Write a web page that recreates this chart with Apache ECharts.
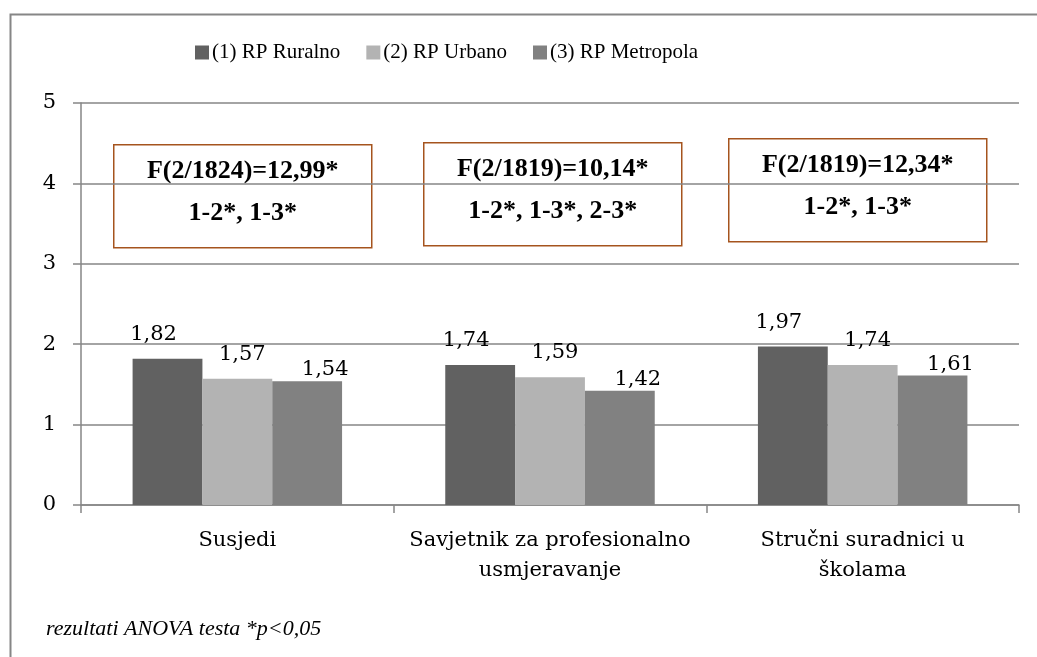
<!DOCTYPE html>
<html><head><meta charset="utf-8">
<script src="https://cdn.jsdelivr.net/npm/echarts@6/dist/echarts.min.js"></script>
<style>html,body{margin:0;padding:0;background:#fff}#c{width:1037px;height:657px}</style>
</head><body><div id="c"></div>
<script>
const categories = ['Susjedi', 'Savjetnik za profesionalno\nusmjeravanje', 'Stručni suradnici u\nškolama'];
const seriesNames = ['(1) RP Ruralno', '(2) RP Urbano', '(3) RP Metropola'];
const ruralno = [1.82, 1.74, 1.97];
const urbano = [1.57, 1.59, 1.74];
const metropola = [1.54, 1.42, 1.61];
const anovaF = ['F(2/1824)=12,99*', 'F(2/1819)=10,14*', 'F(2/1819)=12,34*'];
const anovaPairs = ['1-2*, 1-3*', '1-2*, 1-3*, 2-3*', '1-2*, 1-3*'];
const footnote = 'rezultati ANOVA testa *p<0,05';
const yTicks = [0, 1, 2, 3, 4, 5];

const colors = ['#616161', '#b3b3b3', '#818181'];
const serif = 'DejaVu Serif';
const labelOffsets = [[-14, 0], [5, 0], [18, 13]];
const boxes = [[113, 144], [423, 142], [728, 138]];

const chart = echarts.init(document.getElementById('c'), null, {renderer: 'canvas'});
const fmt = p => p.value.toFixed(2).replace('.', ',');
const datasets = [ruralno, urbano, metropola];
const series = datasets.map((d, i) => ({
  name: seriesNames[i], type: 'bar', data: d,
  barGap: '0%', barCategoryGap: '33%',
  itemStyle: {color: colors[i]},
  label: {show: true, position: 'top', distance: 14, offset: labelOffsets[i],
    formatter: fmt, color: '#000', fontFamily: serif, fontSize: 21},
  emphasis: {disabled: true}, animation: false
}));

const graphic = [{
  type: 'rect', left: 8, top: 12, shape: {width: 1100, height: 700},
  style: {fill: 'none', stroke: '#868686', lineWidth: 2}, silent: true, z: 0
}, {
  type: 'text', left: 46, top: 618,
  style: {text: footnote, font: 'italic 22px "Liberation Serif"', fill: '#000'}
}];
boxes.forEach((b, i) => {
  graphic.push({
    type: 'group', left: b[0], top: b[1], z: 100,
    children: [
      {type: 'rect', shape: {x: 0, y: 0, width: 258, height: 103},
       style: {fill: '#fff', stroke: '#a5541e', lineWidth: 1.5}},
      {type: 'text', x: 129, y: 27, style: {text: anovaF[i], font: 'bold 26px "Liberation Serif"', fill: '#000', align: 'center', verticalAlign: 'middle'}},
      {type: 'text', x: 129, y: 69, style: {text: anovaPairs[i], font: 'bold 26px "Liberation Serif"', fill: '#000', align: 'center', verticalAlign: 'middle'}}
    ]
  });
});

chart.setOption({
  animation: false,
  backgroundColor: '#fff',
  legend: {
    left: 195, top: 42, padding: 0, itemWidth: 14, itemHeight: 14, itemGap: 26,
    icon: 'rect', data: seriesNames,
    textStyle: {fontFamily: 'Liberation Serif', fontSize: 21, color: '#000', padding: [0, 0, 0, -2]}
  },
  grid: {left: 81, right: 18, top: 103, bottom: 152, containLabel: false},
  xAxis: {
    type: 'category', data: categories,
    axisLine: {lineStyle: {color: '#868686', width: 1.5}},
    axisTick: {show: true, length: 8, lineStyle: {color: '#868686', width: 1.5}},
    axisLabel: {fontFamily: serif, fontSize: 21, color: '#000', margin: 21, lineHeight: 30, interval: 0}
  },
  yAxis: {
    type: 'value', min: yTicks[0], max: yTicks[yTicks.length - 1], interval: 1,
    axisLine: {show: true, lineStyle: {color: '#868686', width: 1.5}},
    axisTick: {show: true, length: 8, lineStyle: {color: '#868686', width: 1.5}},
    splitLine: {lineStyle: {color: '#868686', width: 1.5}},
    axisLabel: {fontFamily: serif, fontSize: 21, color: '#000', margin: 25}
  },
  series: series,
  graphic: graphic
});
</script></body></html>
